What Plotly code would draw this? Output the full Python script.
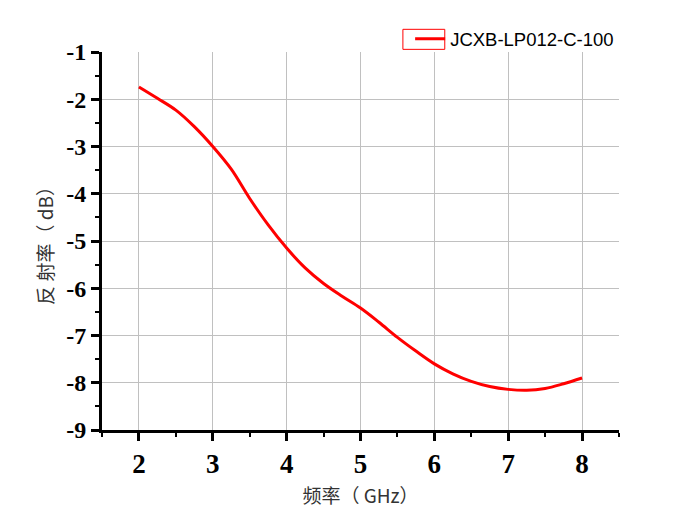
import plotly.graph_objects as go

RED = "#FF0000"
GRID = "#C0C0C0"
SERIF = "Liberation Serif"
CJK = "Noto Sans CJK SC"

freq_ghz = [2.0, 2.25, 2.5, 2.75, 3.0, 3.25, 3.5, 3.75, 4.0, 4.25, 4.5, 4.75, 5.0,
            5.25, 5.5, 5.75, 6.0, 6.25, 6.5, 6.75, 7.0, 7.25, 7.5, 7.75, 8.0]
reflect_db = [-1.74, -1.98, -2.23, -2.58, -3.00, -3.48, -4.10, -4.66, -5.15, -5.57,
              -5.90, -6.17, -6.42, -6.72, -7.04, -7.33, -7.60, -7.81, -7.97, -8.08,
              -8.14, -8.16, -8.12, -8.02, -7.90]
series_name = "JCXB-LP012-C-100"
x_ticks = [2, 3, 4, 5, 6, 7, 8]
y_ticks = [-9, -8, -7, -6, -5, -4, -3, -2, -1]

fig = go.Figure(go.Scatter(
    x=freq_ghz, y=reflect_db, name=series_name, mode="lines",
    line=dict(color=RED, width=3, shape="spline"),
))

axis_common = dict(
    showline=True, linewidth=3, linecolor="black",
    ticks="outside", ticklen=8, tickwidth=3, tickcolor="black",
    showgrid=True, gridcolor=GRID, gridwidth=1, zeroline=False,
    minor=dict(ticks="outside", ticklen=4, tickwidth=2, tickcolor="black",
               dtick=0.5, showgrid=False),
)

fig.update_xaxes(
    range=[1.5, 8.5], tickvals=x_ticks,
    ticktext=[f"<b>{v}</b>" for v in x_ticks], **axis_common,
    tickfont=dict(family=SERIF, size=27, color="black"),
    title=dict(text="频率（ GHz）", font=dict(family=CJK, size=19, color="#333"), standoff=12),
)
fig.update_yaxes(
    range=[-9, -1], tickvals=y_ticks,
    ticktext=[f"<b>-{abs(v)}</b>" for v in y_ticks], **axis_common,
    tickfont=dict(family=SERIF, size=24, color="black"),
    title=dict(text="反 射率（ dB）", font=dict(family=CJK, size=19, color="#333"), standoff=8),
)

fig.update_layout(
    width=681, height=519,
    margin=dict(l=94, r=70, t=42, b=97),
    paper_bgcolor="white", plot_bgcolor="white",
    showlegend=True,
    legend=dict(x=0.596, xanchor="left", y=1.034, yanchor="middle",
                font=dict(family="Liberation Sans", size=18.5, color="black"),
                bgcolor="rgba(0,0,0,0)"),
    shapes=[dict(type="rect", xref="paper", yref="paper",
                 x0=0.582, x1=0.663, y0=1.007, y1=1.06,
                 line=dict(color=RED, width=1))],
)

fig.write_html("out.html")
